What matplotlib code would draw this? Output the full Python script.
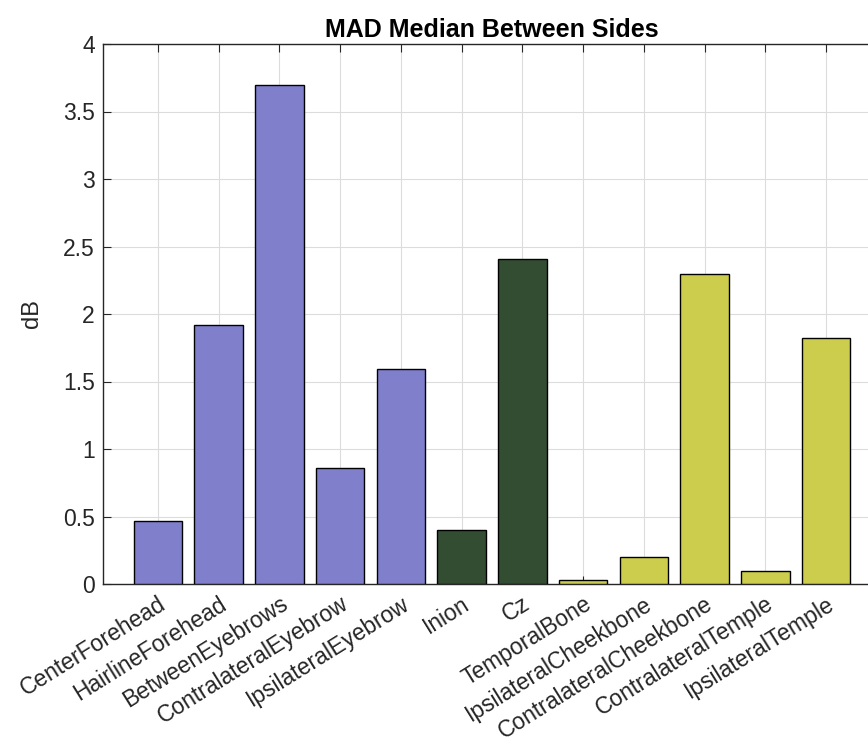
import matplotlib.pyplot as plt
import numpy as np

plt.rcParams['font.family'] = ['Liberation Sans', 'DejaVu Sans']

labels = ['CenterForehead', 'HairlineForehead', 'BetweenEyebrows', 'ContralateralEyebrow',
          'IpsilateralEyebrow', 'Inion', 'Cz', 'TemporalBone', 'IpsilateralCheekbone',
          'ContralateralCheekbone', 'ContralateralTemple', 'IpsilateralTemple']
values = [0.47, 1.92, 3.70, 0.86, 1.59, 0.40, 2.41, 0.03, 0.20, 2.30, 0.094, 1.82]
groups = ['face'] * 5 + ['midline'] * 2 + ['side'] * 5
group_colors = {'face': '#7F7FCC', 'midline': '#334D33', 'side': '#CCCC4D'}

axcol = '#262626'

fig = plt.figure(figsize=(8.68, 7.45), dpi=100)
ax = fig.add_axes([103 / 868, 161 / 745, 778 / 868, 540 / 745])

x = np.arange(1, len(values) + 1)
ax.bar(x, values, width=0.8, color=[group_colors[g] for g in groups],
       edgecolor='black', linewidth=1.0, zorder=3)

ax.set_xlim(0.094, 12.906)
ax.set_ylim(0, 4)
ax.set_xticks(x)
ax.set_xticklabels(labels, rotation=32, ha='right', rotation_mode='anchor', fontsize=16.5, color=axcol)
ax.set_yticks(np.arange(0, 4.01, 0.5))
ax.set_yticklabels(['0', '0.5', '1', '1.5', '2', '2.5', '3', '3.5', '4'], fontsize=16.5, color=axcol)

ax.grid(True, color='#DCDCDC', linewidth=0.8, zorder=0)
ax.tick_params(direction='in', length=6, width=0.8, color=axcol, top=True, right=True, pad=6)
for s in ax.spines.values():
    s.set_color(axcol)
    s.set_linewidth(1.0)

ax.set_ylabel('dB', fontsize=17, color=axcol, labelpad=14)
ax.set_title('MAD Median Between Sides', fontsize=18, fontweight='bold', color='black', pad=5)

fig.savefig('out.png', dpi=100)
